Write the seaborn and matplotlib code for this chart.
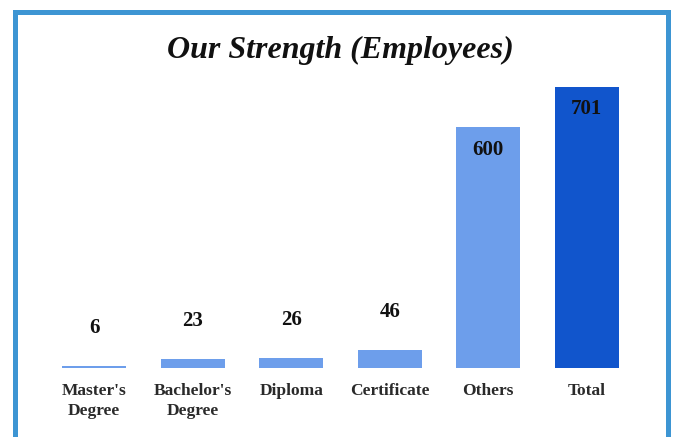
import matplotlib
matplotlib.use("Agg")
import matplotlib.pyplot as plt
import seaborn as sns
import pandas as pd
from matplotlib.patches import Rectangle

categories = ["Master's\nDegree", "Bachelor's\nDegree", "Diploma", "Certificate", "Others", "Total"]
values = [6, 23, 26, 46, 600, 701]
title = "Our Strength (Employees)"

light = "#6d9eeb"
dark = "#1155cc"
palette = [light, light, light, light, light, dark]

sns.set_theme(style="white")
plt.rcParams['font.family'] = ['Liberation Serif', 'DejaVu Serif']

df = pd.DataFrame({"cat": categories, "val": values})

fig = plt.figure(figsize=(6.73, 4.37), dpi=100)
W, H = 673, 437
ax = fig.add_axes([45 / W, 69 / H, (636 - 45) / W, (368 - 60) / H])

sns.barplot(data=df, x="cat", y="val", hue="cat", palette=palette, legend=False,
            width=0.65, ax=ax, edgecolor="none", saturation=1)

ax.set_xlim(-0.5, 5.5)
ax.set_ylim(0, 768)
ax.set_xlabel("")
ax.set_ylabel("")
ax.set_yticks([])
for s in ax.spines.values():
    s.set_visible(False)
ax.tick_params(axis="x", length=0, pad=11)
for lbl in ax.get_xticklabels():
    lbl.set_fontsize(12.5)
    lbl.set_fontweight("bold")
    lbl.set_color("#2a2a2a")
    lbl.set_linespacing(1.35)
    lbl.set_verticalalignment("top")

vmax = max(values)
for i, v in enumerate(values):
    if v > 0.3 * vmax:
        ax.annotate(str(v), (i, v), xytext=(0, -16), textcoords="offset points",
                    ha="center", va="center", fontsize=15, fontweight="bold", color="#111111")
    else:
        ax.annotate(str(v), (i, v), xytext=(0, 27), textcoords="offset points",
                    ha="center", va="center", fontsize=15, fontweight="bold", color="#111111")

fig.text(340 / W, 1 - 50 / H, title, ha="center", va="center", fontsize=23,
         fontweight="bold", fontstyle="italic", color="#111111")

# frame border
bw = 5
fig.patches.append(Rectangle((14.5 / W, -10 / H), (668 - 14.5) / W, (437 - 12 + 10) / H,
                             transform=fig.transFigure, fill=False,
                             edgecolor="#3d95d3", linewidth=bw * 72 / 100, zorder=10))

fig.savefig("out.png", dpi=100)
